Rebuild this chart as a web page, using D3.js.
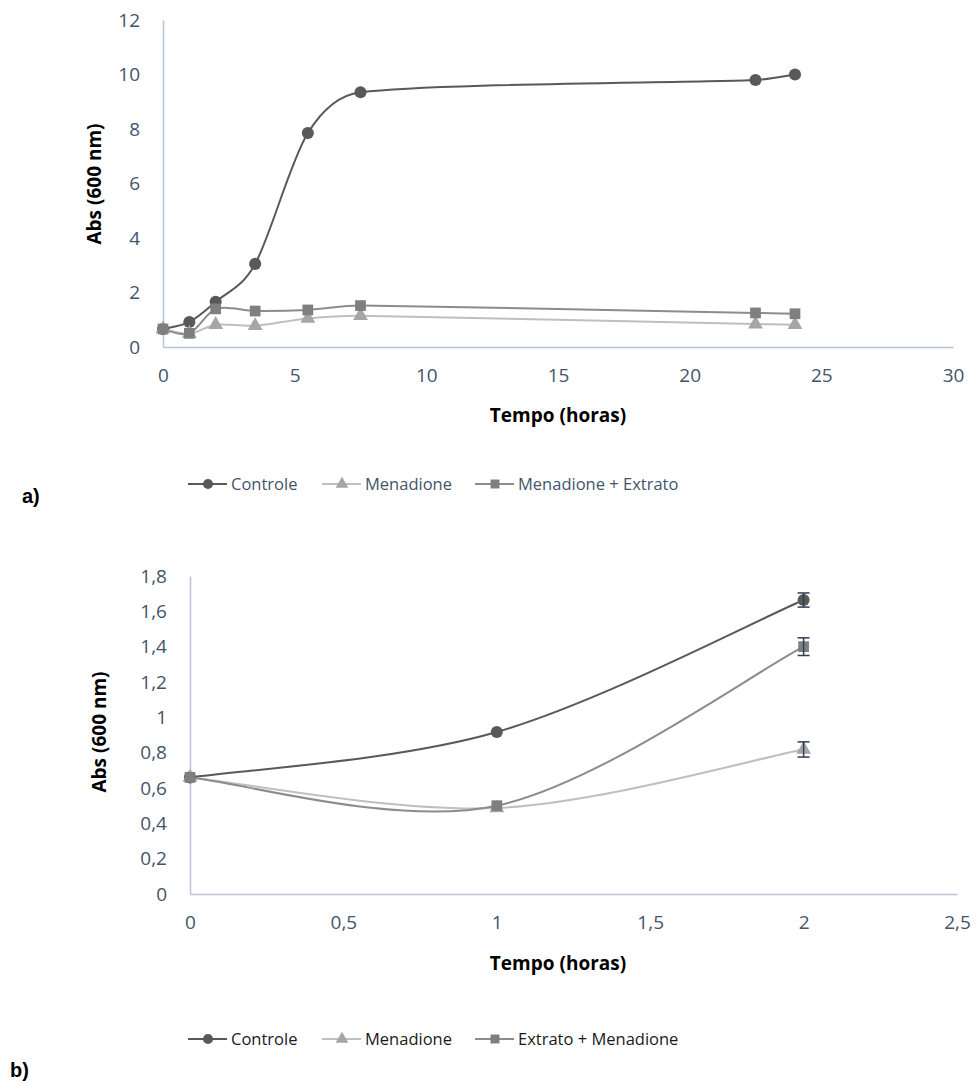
<!DOCTYPE html>
<html>
<head>
<meta charset="utf-8">
<script src="https://cdn.jsdelivr.net/npm/d3@7"></script>
<style>
  body { margin: 0; background: #fff; }
  svg { display: block; font-family: "Open Sans", sans-serif; }
</style>
</head>
<body>
<svg id="chart" width="977" height="1082"></svg>
<script>
// panel a) - full growth curve
const hoursA = [0, 1, 2, 3.5, 5.5, 7.5, 22.5, 24];
const controleA = [0.66, 0.92, 1.66, 3.05, 7.85, 9.35, 9.8, 10.0];
const menadioneA = [0.66, 0.49, 0.82, 0.78, 1.05, 1.15, 0.84, 0.82];
const extratoA = [0.66, 0.5, 1.4, 1.32, 1.36, 1.52, 1.25, 1.22];
const ticksXA = [0, 5, 10, 15, 20, 25, 30];
const ticksYA = [0, 2, 4, 6, 8, 10, 12];
const legendA = ['Controle', 'Menadione', 'Menadione + Extrato'];

// panel b) - first two hours, with error bars
const hoursB = [0, 1, 2];
const controleB = [0.66, 0.917, 1.664];
const controleErrB = [0, 0, 0.04];
const menadioneB = [0.66, 0.487, 0.818];
const menadioneErrB = [0, 0, 0.043];
const extratoB = [0.66, 0.5, 1.4];
const extratoErrB = [0, 0, 0.05];
const ticksXB = [0, 0.5, 1, 1.5, 2, 2.5];
const ticksYB = [0, 0.2, 0.4, 0.6, 0.8, 1, 1.2, 1.4, 1.6, 1.8];
const legendB = ['Controle', 'Menadione', 'Extrato + Menadione'];

const axisColor = '#b7c3d6';
const labelColor = '#44546a';
const styles = [
  { line: '#595959', fill: '#595959', shape: d3.symbolCircle },
  { line: '#bfbfbf', fill: '#a6a6a6', shape: d3.symbolTriangle },
  { line: '#8c8c8c', fill: '#7f7f7f', shape: d3.symbolSquare }
];
const comma = v => String(v).replace('.', ',');

const svg = d3.select('#chart');

// spreadsheet-style smoothed line: tangent (next - prev) / 6,
// shortened so a control point never passes the neighbouring x
function smoothPath(points) {
  const tangent = (prev, next, span) => {
    let tx = (next[0] - prev[0]) / 6, ty = (next[1] - prev[1]) / 6;
    const lim = span / 3;
    if (tx > lim) { ty *= lim / tx; tx = lim; }
    return [tx, ty];
  };
  let path = `M${points[0][0]},${points[0][1]}`;
  for (let i = 0; i < points.length - 1; i++) {
    const a = points[i], b = points[i + 1];
    const prev = points[i - 1] || a, next = points[i + 2] || b;
    const span = b[0] - a[0];
    const t1 = tangent(prev, b, span), t2 = tangent(a, next, span);
    path += ` C${a[0] + t1[0]},${a[1] + t1[1]} ${b[0] - t2[0]},${b[1] - t2[1]} ${b[0]},${b[1]}`;
  }
  return path;
}

function drawPanel(g, cfg) {
  const x = d3.scaleLinear().domain([0, cfg.xMax]).range([cfg.left, cfg.right]);
  const y = d3.scaleLinear().domain([0, cfg.yMax]).range([cfg.bottom, cfg.top]);

  // axes: line only, no tick marks
  const xAxis = g.append('g')
    .attr('transform', `translate(0,${cfg.bottom})`)
    .call(d3.axisBottom(x).tickValues(cfg.ticksX).tickSize(0).tickPadding(22).tickFormat(comma));
  const yAxis = g.append('g')
    .attr('transform', `translate(${cfg.left},0)`)
    .call(d3.axisLeft(y).tickValues(cfg.ticksY).tickSize(0).tickPadding(23).tickFormat(comma));
  [xAxis, yAxis].forEach(a => {
    a.attr('font-size', null).attr('font-family', null);
    a.select('.domain').attr('stroke', axisColor).attr('stroke-width', 1.5);
    a.selectAll('text').attr('fill', labelColor).style('font-size', '19px');
  });

  g.append('text')
    .attr('x', cfg.xTitle[0]).attr('y', cfg.xTitle[1])
    .attr('text-anchor', 'middle')
    .style('font-weight', 'bold').style('font-size', '19px')
    .text('Tempo (horas)');
  g.append('text')
    .attr('transform', `translate(${cfg.yTitle[0]},${cfg.yTitle[1]}) rotate(-90)`)
    .attr('text-anchor', 'middle')
    .style('font-weight', 'bold').style('font-size', '19px')
    .text('Abs (600 nm)');

  cfg.series.forEach((vals, i) => {
    const pts = cfg.hours.map((h, j) => [x(h), y(vals[j])]);
    g.append('path')
      .attr('d', smoothPath(pts))
      .attr('fill', 'none')
      .attr('stroke', styles[i].line)
      .attr('stroke-width', 2);
  });

  cfg.series.forEach((vals, i) => {
    const pts = cfg.hours.map((h, j) => [h, vals[j]]);
    g.selectAll(null).data(pts).enter().append('path')
      .attr('transform', d => `translate(${x(d[0])},${y(d[1])})`)
      .attr('d', d3.symbol().type(styles[i].shape).size(i === 1 ? 95 : 115))
      .attr('fill', styles[i].fill);

    if (cfg.errors) {
      const errs = cfg.errors[i];
      pts.forEach((d, j) => {
        if (!errs[j]) return;
        const cx = x(d[0]), y0 = y(d[1] - errs[j]), y1 = y(d[1] + errs[j]);
        const eb = g.append('g').attr('stroke', '#2f3d52').attr('stroke-width', 1.5);
        eb.append('line').attr('x1', cx).attr('x2', cx).attr('y1', y0).attr('y2', y1);
        eb.append('line').attr('x1', cx - 6).attr('x2', cx + 6).attr('y1', y0).attr('y2', y0);
        eb.append('line').attr('x1', cx - 6).attr('x2', cx + 6).attr('y1', y1).attr('y2', y1);
      });
    }
  });

  // legend
  cfg.legend.forEach((name, i) => {
    const lx = cfg.legendX[i], ly = cfg.legendY;
    g.append('line')
      .attr('x1', lx).attr('x2', lx + 39).attr('y1', ly).attr('y2', ly)
      .attr('stroke', styles[i].line).attr('stroke-width', 2);
    g.append('path')
      .attr('transform', `translate(${lx + 20},${ly})`)
      .attr('d', d3.symbol().type(styles[i].shape).size(i === 1 ? 70 : 80))
      .attr('fill', styles[i].fill);
    g.append('text')
      .attr('x', lx + 43).attr('y', ly).attr('dy', '0.35em')
      .attr('fill', cfg.legendColor)
      .style('font-size', '16.5px')
      .text(name);
  });

  g.append('text')
    .attr('x', cfg.tag[0]).attr('y', cfg.tag[1])
    .style('font-family', '"Liberation Sans", Arial, sans-serif')
    .style('font-weight', 'bold').style('font-size', '20px')
    .text(cfg.tagText);
}

drawPanel(svg.append('g'), {
  hours: hoursA,
  series: [controleA, menadioneA, extratoA],
  xMax: 30, yMax: 12,
  left: 163, right: 953, top: 20, bottom: 347,
  ticksX: ticksXA, ticksY: ticksYA,
  xTitle: [558, 422], yTitle: [101, 184],
  legend: legendA, legendX: [188, 322, 475], legendY: 484, legendColor: labelColor,
  tag: [22, 503], tagText: 'a)'
});

drawPanel(svg.append('g'), {
  hours: hoursB,
  series: [controleB, menadioneB, extratoB],
  errors: [controleErrB, menadioneErrB, extratoErrB],
  xMax: 2.5, yMax: 1.8,
  left: 190, right: 957, top: 576, bottom: 894,
  ticksX: ticksXB, ticksY: ticksYB,
  xTitle: [558, 970], yTitle: [106, 732],
  legend: legendB, legendX: [188, 322, 475], legendY: 1039, legendColor: '#1a1a1a',
  tag: [10, 1077], tagText: 'b)'
});
</script>
</body>
</html>
